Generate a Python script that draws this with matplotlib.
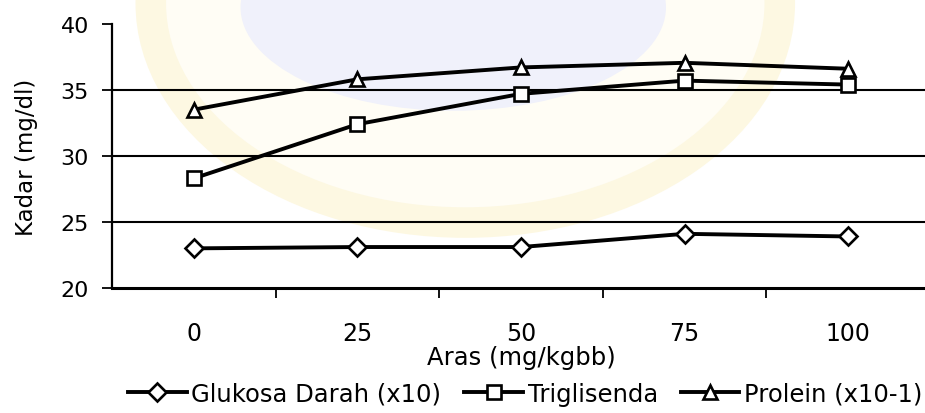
import matplotlib.pyplot as plt
from matplotlib.patches import Ellipse

aras = ['0', '25', '50', '75', '100']
glukosa = [23.0, 23.1, 23.1, 24.1, 23.9]
trigliserida = [28.3, 32.4, 34.7, 35.7, 35.4]
protein = [33.5, 35.8, 36.7, 37.05, 36.6]
labels = ['Glukosa Darah (x10)', 'Triglisenda', 'Prolein (x10-1)']

plt.rcParams['font.family'] = ['DejaVu Sans']

fig = plt.figure(figsize=(9.25, 4.14), dpi=100)

# faint watermark seal behind the chart (scanned logo)
fig.patches.append(Ellipse((0.503, 0.99), 0.68, 1.06, transform=fig.transFigure,
                           facecolor='#fffdf5', edgecolor='#fdf8e2', lw=22, zorder=-2))
fig.patches.append(Ellipse((0.49, 0.98), 0.46, 0.50, transform=fig.transFigure,
                           facecolor='#f0f1fb', edgecolor='none', zorder=-1))

ax = fig.add_axes([112 / 925, 0.302, 818 / 925, 0.638], zorder=1)
ax.patch.set_alpha(0)

x = list(range(len(aras)))
style = dict(color='black', lw=2.8, markerfacecolor='white',
             markeredgecolor='black', markeredgewidth=1.9, zorder=3)
ax.plot(x, glukosa, marker='D', markersize=9, label=labels[0], **style)
ax.plot(x, trigliserida, marker='s', markersize=10.5, label=labels[1], **style)
ax.plot(x, protein, marker='^', markersize=10.5, label=labels[2], **style)

for v in [25, 30, 35]:
    ax.axhline(v, color='black', lw=1.5, zorder=1)

ax.set_ylim(20, 40)
ax.set_xlim(-0.5, 4.5)
ax.set_yticks([20, 25, 30, 35, 40])
ax.tick_params(axis='y', labelsize=16, length=7.5, width=1.3, direction='out', pad=9)

ax.set_xticks(x)
ax.set_xticklabels(aras)
ax.set_xticks([0.5, 1.5, 2.5, 3.5], minor=True)
ax.tick_params(axis='x', which='major', length=0, labelsize=17, pad=24)
ax.tick_params(axis='x', which='minor', length=7.5, width=1.3, direction='out')

ax.spines['top'].set_visible(False)
ax.spines['right'].set_visible(False)
ax.spines['left'].set_linewidth(1.6)
ax.spines['bottom'].set_linewidth(2.2)

ax.set_ylabel('Kadar (mg/dl)', fontsize=16.5, va='center')
ax.yaxis.set_label_coords(-0.104, 0.5)
ax.set_xlabel('Aras (mg/kgbb)', fontsize=17.5, va='center')
ax.xaxis.set_label_coords(0.5, -0.262)

fig.legend(loc='center', bbox_to_anchor=(0.568, 0.046), ncol=3, frameon=False,
           fontsize=17.5, handlelength=2.4, handletextpad=0.2, columnspacing=0.95,
           borderaxespad=0, borderpad=0)

fig.savefig('out.png', dpi=100)
